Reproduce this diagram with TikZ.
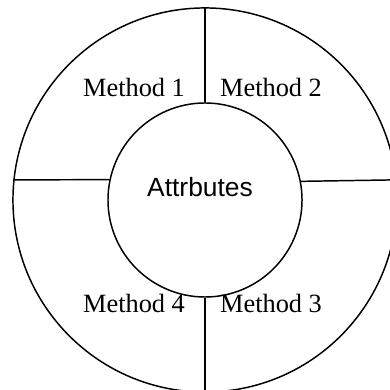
\documentclass[tikz,border=0pt]{standalone}
\usepackage{fontspec}
\setmainfont{Liberation Serif}
\setsansfont{Liberation Sans}
\usetikzlibrary{positioning}

\begin{document}
\begin{tikzpicture}[x=0.01667cm, y=0.01667cm, line width=0.7pt,
  every node/.style={font=\fontsize{12.5}{15}\selectfont},
  ring/.style={draw, circle, inner sep=0pt}]
\useasboundingbox (0,0) rectangle (390,390);
\coordinate (c) at (205,190);
\node[ring, minimum size=6.4cm] (outer) at (c) {};
\node[ring, minimum size=3.233cm] (inner) at (c) {};
\node[font=\sffamily\fontsize{12.5}{15}\selectfont] (attr) at (200,203) {Attrbutes};
% dividers
\draw (inner.north) -- (outer.north);
\draw (inner.south) -- (outer.south);
\draw (inner.168.1) -- (outer.174);
\draw (inner.11.9) -- (outer.6);
\node (m1) at (134,303) {Method 1};
\node (m2) at (271,303) {Method 2};
\node (m3) at (271,87) {Method 3};
\node (m4) at (134,87) {Method 4};
\end{tikzpicture}
\end{document}
